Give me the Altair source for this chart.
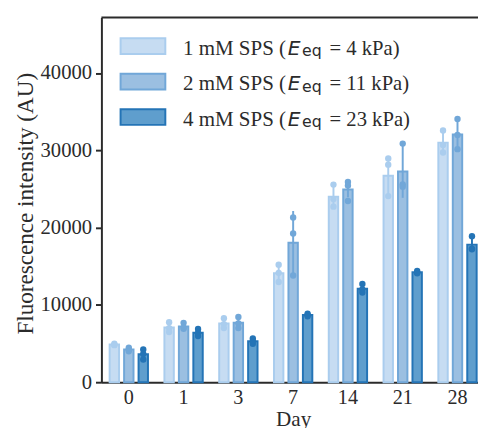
import altair as alt
import pandas as pd

# ---------------- data ----------------
days = ["0", "1", "3", "7", "14", "21", "28"]
series = ["1 mM SPS", "2 mM SPS", "4 mM SPS"]
moduli = ["4", "11", "23"]

mean_1 = [4880, 7090, 7600, 14100, 23990, 26700, 31000]
mean_2 = [4240, 7220, 7680, 18050, 24930, 27260, 32060]
mean_3 = [3610, 6410, 5310, 8700, 12100, 14230, 17800]

sd_1 = [150, 550, 600, 1100, 1450, 2400, 1450]
sd_2 = [230, 400, 730, 4100, 1000, 3400, 2000]
sd_3 = [800, 450, 330, 180, 550, 160, 900]

reps_1 = [[5000, 4850, 4790], [7770, 7000, 6500], [8280, 7520, 7000],
          [15200, 14150, 12960], [25570, 23690, 22710], [28960, 28150, 24080],
          [32570, 30700, 29720]]
reps_2 = [[4460, 4250, 4010], [7680, 7050, 6920], [8450, 7600, 7000],
          [21310, 19240, 13800], [25900, 25440, 23450], [30870, 25600, 25300],
          [34050, 30150, 31980]]
reps_3 = [[4240, 3660, 2930], [6880, 6370, 5980], [5650, 5300, 4980],
          [8880, 8700, 8520], [12700, 12000, 11600], [14400, 14200, 14090],
          [18900, 17290, 17210]]

fills = ["#c6dcf2", "#9bbfe1", "#5f9ecd"]
edges = ["#aacdee", "#71a7d8", "#2474b6"]

means = [mean_1, mean_2, mean_3]
sds = [sd_1, sd_2, sd_3]
reps = [reps_1, reps_2, reps_3]

rows, pts = [], []
for s, name in enumerate(series):
    for d, day in enumerate(days):
        m = means[s][d]
        e = sds[s][d]
        rows.append({"day": day, "series": name, "mean": m, "lo": m - e, "hi": m + e})
        for v in reps[s][d]:
            pts.append({"day": day, "series": name, "value": v})
bars_df = pd.DataFrame(rows)
pts_df = pd.DataFrame(pts)

YMAX = 47200
DARK = "#2b2b2b"
SERIF = "Liberation Serif"

xenc = alt.X("day:N", sort=days,
             scale=alt.Scale(range=[0, 390], paddingInner=0.208, paddingOuter=0.104),
             axis=alt.Axis(title="Day", ticks=False, labelAngle=0, labelFontSize=20.5,
                           labelFont=SERIF, labelColor=DARK, labelPadding=6,
                           titleFont=SERIF, titleFontSize=21.5, titleFontWeight="normal",
                           titleColor=DARK, titleX=195, titleY=44,
                           titleBaseline="alphabetic", titleAnchor="middle",
                           domainColor=DARK, domainWidth=2))
xoff = alt.XOffset("series:N", sort=series,
                   scale=alt.Scale(paddingInner=0.35, paddingOuter=0.175))
yscale = alt.Scale(domain=[0, YMAX], nice=False)
yaxis = alt.Axis(title="Fluorescence intensity (AU)", values=[0, 10000, 20000, 30000, 40000],
                 format="d", grid=False, tickSize=6, tickWidth=2, tickColor=DARK,
                 labelFontSize=21, labelFont=SERIF, labelColor=DARK, labelPadding=4,
                 titleFont=SERIF, titleFontSize=23.5, titleFontWeight="normal",
                 titleColor=DARK, titleX=-77, titleY=189, titleBaseline="middle",
                 domainColor=DARK, domainWidth=2)

fill_scale = alt.Scale(domain=series, range=fills)
edge_scale = alt.Scale(domain=series, range=edges)

bars = alt.Chart(bars_df).mark_bar(strokeWidth=2).encode(
    x=xenc, xOffset=xoff,
    y=alt.Y("mean:Q", scale=yscale, axis=yaxis),
    fill=alt.Fill("series:N", scale=fill_scale, legend=None),
    stroke=alt.Stroke("series:N", scale=edge_scale, legend=None),
)

err = alt.Chart(bars_df).mark_rule(strokeWidth=2).encode(
    x=alt.X("day:N", sort=days), xOffset=alt.XOffset("series:N", sort=series),
    y=alt.Y("lo:Q"), y2="hi:Q",
    color=alt.Color("series:N", scale=edge_scale, legend=None),
)

dots = alt.Chart(pts_df).mark_circle(size=42, opacity=1).encode(
    x=alt.X("day:N", sort=days), xOffset=alt.XOffset("series:N", sort=series),
    y=alt.Y("value:Q"),
    color=alt.Color("series:N", scale=edge_scale, legend=None),
)

top_spine = alt.Chart(pd.DataFrame({"k": [0]})).mark_rule(color=DARK, strokeWidth=2).encode(
    y=alt.value(0)
)

# ---------------- manual legend (with subscript) ----------------
leg_layers = []
for i, name in enumerate(series):
    dy = 36 * i
    one = pd.DataFrame({"k": [0]})
    leg_layers.append(alt.Chart(one).mark_rect(fill=fills[i], stroke=edges[i], strokeWidth=2).encode(
        x=alt.value(19.5), x2=alt.value(65), y=alt.value(21.3 + dy), y2=alt.value(37.3 + dy)))
    leg_layers.append(alt.Chart(one).mark_text(text=name + " (", font=SERIF, fontSize=21.3,
                                               align="left", baseline="alphabetic", color=DARK).encode(
        x=alt.value(83), y=alt.value(38 + dy)))
    leg_layers.append(alt.Chart(one).mark_text(text="E", font="DejaVu Sans", fontStyle="italic",
                                               fontSize=20.5, align="left", baseline="alphabetic",
                                               color=DARK).encode(
        x=alt.value(189.5), y=alt.value(38 + dy)))
    leg_layers.append(alt.Chart(one).mark_text(text="eq", font="DejaVu Sans", fontSize=16,
                                               align="left", baseline="alphabetic", color=DARK).encode(
        x=alt.value(204), y=alt.value(39.5 + dy)))
    leg_layers.append(alt.Chart(one).mark_text(text="= " + moduli[i] + " kPa)", font=SERIF,
                                               fontSize=21, align="left", baseline="alphabetic",
                                               color=DARK).encode(
        x=alt.value(232), y=alt.value(38 + dy)))

chart = alt.layer(bars, err, dots, top_spine, *leg_layers).properties(
    width=383, height=371,
    autosize=alt.AutoSizeParams(type="none"),
    padding={"left": 95, "top": 6, "right": 0, "bottom": 43},
    background="white",
).configure_view(stroke=None)

chart.save("out.html", embed_options={"renderer": "svg", "actions": False})
